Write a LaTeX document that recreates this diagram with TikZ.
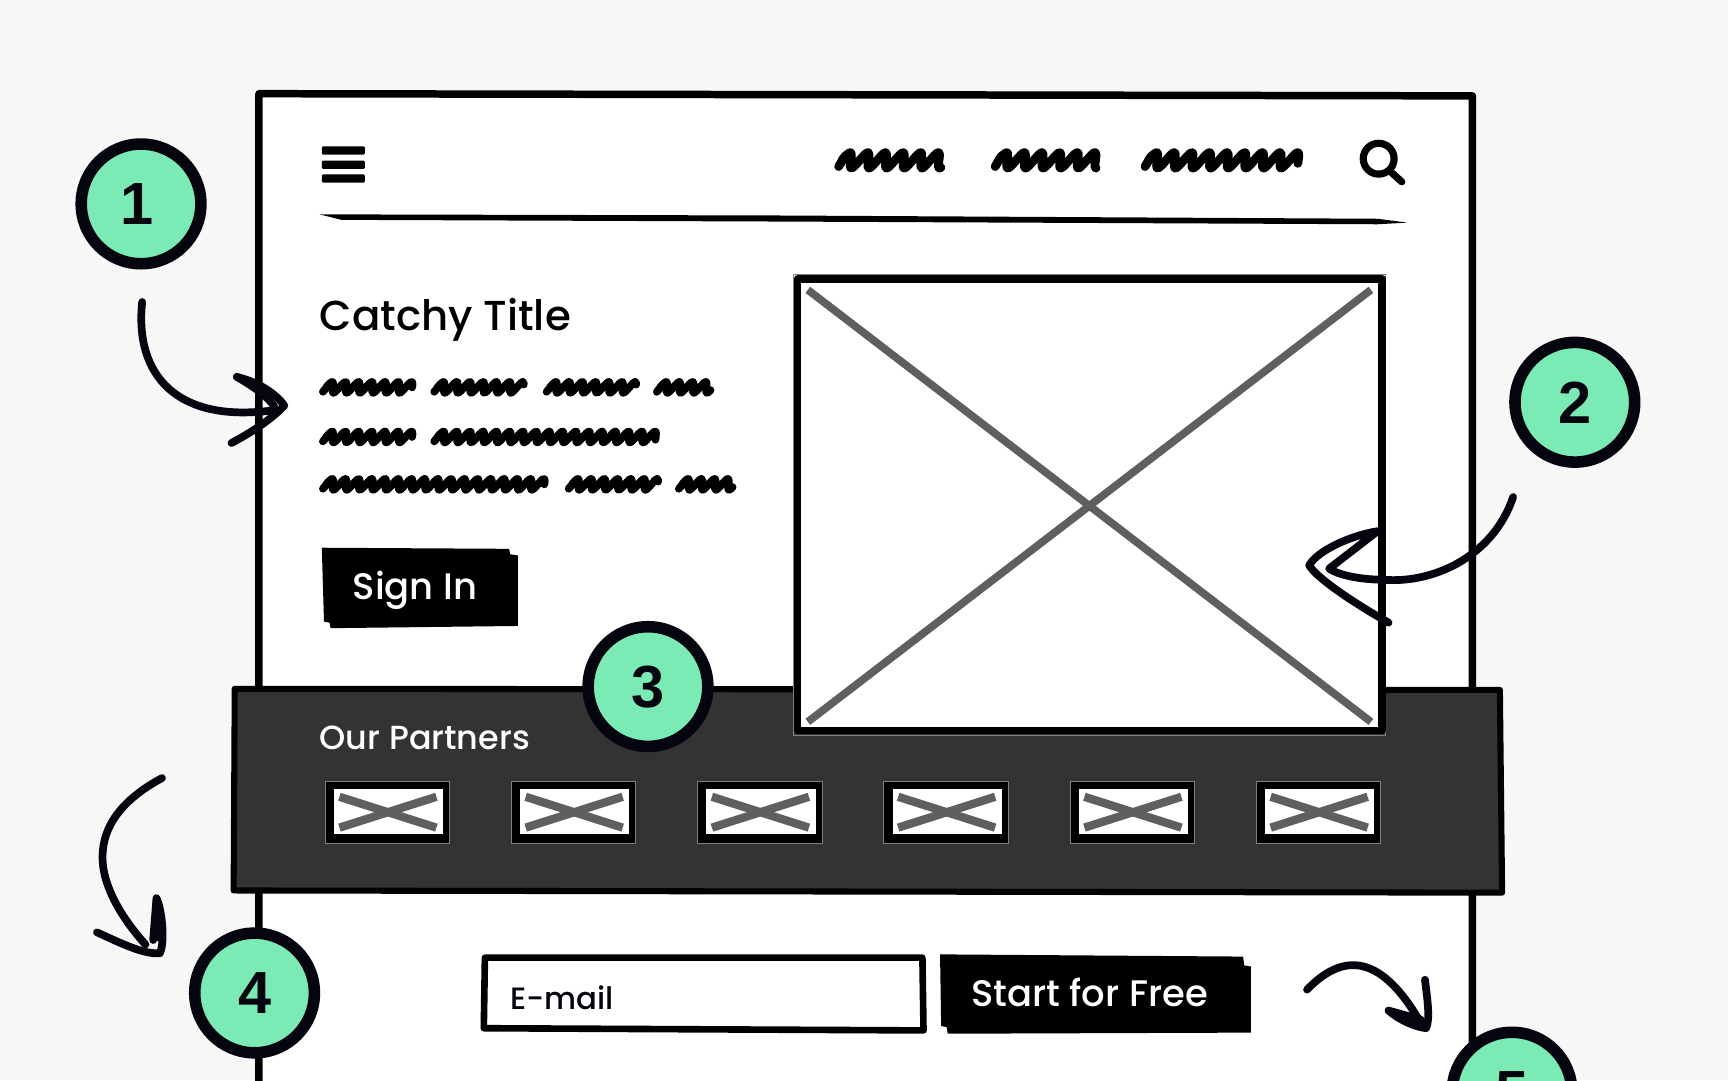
\documentclass[tikz,border=0pt]{standalone}
\usepackage{fontspec}
\setmainfont{Poppins Medium}
\newfontfamily\numfont{Liberation Sans}[BoldFont={Liberation Sans Bold}]
\definecolor{pagebg}{HTML}{F7F7F7}
\definecolor{ink}{HTML}{05050F}
\definecolor{mint}{HTML}{7AEBB5}
\definecolor{band}{HTML}{333333}
\definecolor{crossc}{HTML}{5F5F62}
\tikzset{
  badge/.style={circle,draw=ink,fill=mint,line width=10.5pt,minimum size=108.6pt,inner sep=0pt,text=ink,font=\numfont\bfseries\fontsize{54}{60}\selectfont},
  hand/.style={draw=ink,line width=7pt,line cap=round,line join=round},
  wire/.style={draw=black,line width=6.8pt,line join=round},
  scrib/.style={draw=black,line cap=round,line join=round},
  label/.style={inner sep=0pt,anchor=base west},
  imgcross/.style={draw=crossc},
}
\newcommand{\scribble}[6]{%
  \pgfmathtruncatemacro{\scribn}{(#2-#1)/1.1}%
  \draw[scrib,line width=#6pt] plot[domain=#1:#2,samples=\scribn]
    ({\x+0.5*#4*sin((\x-#1)/#5*360)},{#3-#4*sin((\x-#1)/#5*360)});
  \draw[scrib,line width=#6pt] (#1-3,#3+#4*.8) -- (#1+3,#3-#4*.6);
}
\begin{document}
\begin{tikzpicture}[x=1pt,y=-1pt]
\clip (0,0) rectangle (1568,980);
\fill[pagebg] (0,0) rectangle (1568,980);
% page frame
\path[wire,fill=white] (235,990) -- (235,85) -- (1336,87) -- (1336,990);
% nav
\foreach \yy in {136.5,149.5,162} \fill[black,rounded corners=1pt] (292,\yy-3.7) rectangle (331,\yy+3.7);
\scribble{764}{857}{145.5}{7}{16}{8}
\scribble{906}{998}{145.5}{7}{16}{8}
\scribble{1042}{1179}{145.5}{7}{16}{8}
\draw[black,line width=6.5pt] (1251,144) circle (14);
\draw[black,line width=6.5pt,line cap=round] (1261,155) -- (1272,165);
\fill[black] (290,194.5) -- (700,195.5) -- (1250,198.5) -- (1277,202) -- (1250,203.5) -- (700,201) -- (310,199.5) -- cycle;
% hero text
\node[label,text=black,font=\fontsize{38}{44}\selectfont] (title) at (290,300) {Catchy Title};
\scribble{296}{374}{351.5}{5}{12}{7}
\scribble{397}{474}{351.5}{5}{12}{7}
\scribble{499}{576}{351.5}{5}{12}{7}
\scribble{599}{646}{351.5}{5}{12}{7}
\scribble{296}{374}{396.5}{5}{12}{7}
\scribble{397}{596}{396.5}{5}{12}{7}
\scribble{296}{494}{439.5}{5}{12}{7}
\scribble{519}{596}{439.5}{5}{12}{7}
\scribble{619}{666}{439.5}{5}{12}{7}
% sign in
\fill[black] (292,497) -- (462,498) -- (463,503) -- (470,504) -- (470,568) -- (300,570) -- (299,565) -- (294,564) -- cycle;
\node[label,text=white,font=\fontsize{33.5}{38}\selectfont] (signin) at (320,544) {Sign In};
% partners band
\path[draw=black,fill=band,line width=5.5pt,line join=round] (213,625) -- (1361,626) -- (1363,810) -- (212,808) -- cycle;
\node[label,text=white,font=\fontsize{30.3}{34}\selectfont] (partners) at (290,680) {Our Partners};
\foreach \xx in {295,464,633,802,971,1140}{
  \path[draw=gray,line width=.8pt,fill=black] (\xx,709.5) rectangle (\xx+113,765);
  \fill[white] (\xx+8,716) rectangle (\xx+107,757);
  \draw[imgcross,line width=7.5pt] (\xx+13,723) -- (\xx+101,751);
  \draw[imgcross,line width=7.5pt] (\xx+13,751) -- (\xx+101,723);
}
% hero image
\path[draw=gray,line width=1pt] (720,249) rectangle (1257,667);
\path[wire,fill=white] (723.5,253) rectangle (1254,663);
\draw[imgcross,line width=7pt] (733,263) -- (1244,655);
\draw[imgcross,line width=7pt] (1244,263) -- (733,655);
% form
\path[draw=black,fill=white,line width=6pt,line join=round] (440,869) -- (837,869) -- (838,935) -- (439,933) -- cycle;
\node[label,text=ink,font=\fontsize{28}{34}\selectfont] (email) at (463,916) {E-mail};
\fill[black] (853,866) -- (1128,868) -- (1129,876) -- (1135,877) -- (1135,937) -- (860,938) -- (859,932) -- (854,931) -- cycle;
\node[label,text=white,font=\fontsize{33.5}{38}\selectfont] (start) at (881,913) {Start for Free};
% arrows
\draw[hand] (129,274) .. controls (122,340) and (160,385) .. (250,372);
\draw[hand] (215,342) .. controls (235,347) and (250,357) .. (258,368) .. controls (245,382) and (225,394) .. (210,402);
\draw[hand] (215,342) .. controls (232,352) and (243,360) .. (249,369);
\draw[hand] (1373,451) .. controls (1355,505) and (1300,530) .. (1255,526) .. controls (1235,526) and (1215,522) .. (1206,516) -- (1250,482) .. controls (1225,486) and (1195,500) .. (1188,513) .. controls (1195,525) and (1230,548) .. (1260,565);
\draw[hand] (147,706) .. controls (110,726) and (93,750) .. (93,778) .. controls (93,805) and (112,835) .. (132,857);
\draw[hand] (88,846) .. controls (110,856) and (130,866) .. (145,865) .. controls (150,855) and (147,825) .. (142,815) -- (139,853);
\fill[ink] (142,815) -- (147,855) -- (139,853) -- cycle;
\draw[hand] (1186,898) .. controls (1215,868) and (1250,860) .. (1289,928);
\draw[hand] (1260,917) .. controls (1270,926) and (1285,932) .. (1294,933) .. controls (1298,925) and (1295,905) .. (1293,889);
\draw[hand] (1260,917) -- (1289,925);
\fill[ink] (1260,917) -- (1294,933) -- (1289,925) -- cycle;
% badges
\node[badge] (b1) at (128,185) {\hspace*{-7pt}1};
\node[badge] (b2) at (1429,365) {2};
\node[badge] (b3) at (588,623) {3};
\node[badge] (b4) at (231,901) {4};
\node[badge] (b5) at (1372,991) {5};
\end{tikzpicture}
\end{document}
